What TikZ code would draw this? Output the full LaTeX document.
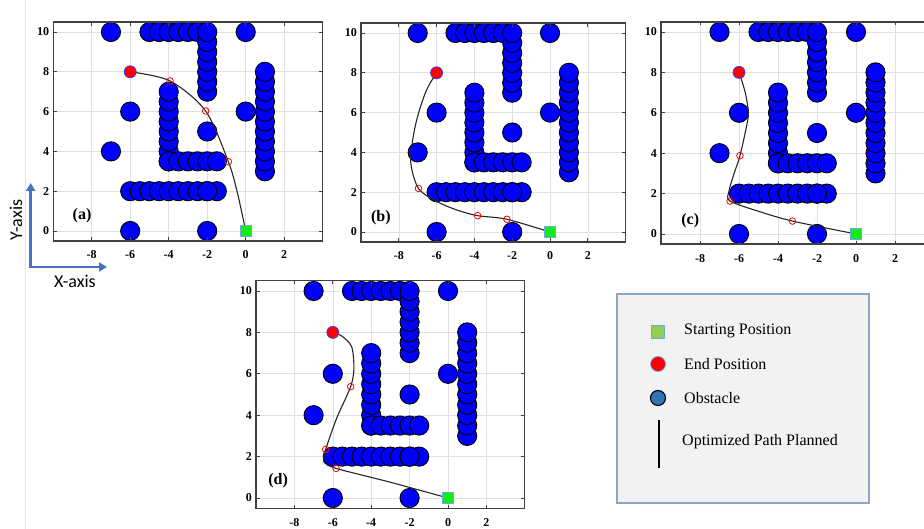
\documentclass[tikz,border=0pt]{standalone}
\usepackage{fontspec}
\setmainfont{Liberation Serif}
\newfontfamily\calibfont{Carlito}
\usetikzlibrary{arrows.meta}
\definecolor{obsblue}{RGB}{0,0,255}
\definecolor{startgreen}{RGB}{20,235,20}
\definecolor{sqborder}{RGB}{110,170,230}
\definecolor{endborder}{RGB}{60,60,255}
\definecolor{legborder}{RGB}{140,165,200}
\definecolor{leggray}{RGB}{242,242,242}
\definecolor{leggreen}{RGB}{146,208,80}
\definecolor{legblue}{RGB}{46,117,182}
\definecolor{axblue}{RGB}{68,114,196}
\tikzset{
 gridline/.style={draw=black!12, line width=0.6pt},
 frameline/.style={draw=black!75, line width=1.3pt},
 tickline/.style={draw=black!75, line width=0.7pt},
 obs/.style={fill=obsblue, draw=black, line width=0.9pt},
 ticklab/.style={font=\bfseries\fontsize{12}{12}\selectfont, inner sep=0pt},
 panlab/.style={font=\bfseries\fontsize{16}{16}\selectfont, inner sep=0pt},
 pathline/.style={draw=black!85, line width=1.1pt},
 waypt/.style={draw=red, line width=0.8pt},
 startsq/.style={fill=startgreen, draw=sqborder, line width=0.8pt, minimum size=11pt, inner sep=0pt},
 endpt/.style={circle, fill=red, draw=endborder, line width=0.8pt, minimum size=12pt, inner sep=0pt},
 legtext/.style={font=\fontsize{16}{16}\selectfont, inner sep=0pt, anchor=west},
 axisarrow/.style={draw=axblue, line width=2.6pt},
 axislab/.style={font=\calibfont\fontsize{18}{18}\selectfont, inner sep=0pt},
}
\newcommand\drawpanel[7]{%
\begin{scope}[shift={(#1,#2)}, x=#3pt, y=#4pt]
 \foreach \g in {-8,-6,...,2} \draw[gridline] (\g,-0.5) -- (\g,10.5);
 \foreach \g in {0,2,...,10} \draw[gridline] (-10,\g) -- (4,\g);
 \foreach \cx/\cy in {-7/10,0/10,-6/6,0/6,-7/4,-2/5,-6/0,-2/0} \draw[obs] (\cx,\cy) circle[radius=9.6pt];
 \foreach \cx in {-5,-4.5,...,-2.5} \draw[obs] (\cx,10) circle[radius=9.6pt];
 \foreach \cy in {7,7.5,...,10} \draw[obs] (-2,\cy) circle[radius=9.6pt];
 \foreach \cy in {3.5,4,...,7} \draw[obs] (-4,\cy) circle[radius=9.6pt];
 \foreach \cx in {-4,-3.5,...,-1.5} \draw[obs] (\cx,3.5) circle[radius=9.6pt];
 \foreach \cx in {-6,-5.5,...,-1.5} \draw[obs] (\cx,2) circle[radius=9.6pt];
 \draw[obs] (-2,2) circle[radius=9.6pt];
 \foreach \cy in {3,3.5,...,8} \draw[obs] (1,\cy) circle[radius=9.6pt];
 #7
 \node[startsq] (start-#5) at (0,0) {};
 \node[endpt] (end-#5) at (-6,8) {};
 \draw[frameline] (-10,-0.5) rectangle (4,10.5);
 \foreach \g in {-8,-6,...,2} {
   \draw[tickline] (\g,-0.5) -- ++(0,3.5pt);
   \draw[tickline] (\g,10.5) -- ++(0,-3.5pt);
   \node[ticklab] at ([yshift=-14pt]\g,-0.5) {\g};}
 \foreach \g in {0,2,...,10} {
   \draw[tickline] (-10,\g) -- ++(3.5pt,0);
   \draw[tickline] (4,\g) -- ++(-3.5pt,0);
   \node[ticklab, anchor=east] at ([xshift=-4pt]-10,\g) {\g};}
 \node[panlab] (lab-#5) at (#6) {(#5)};
\end{scope}}
\begin{document}
\begin{tikzpicture}[x=1pt,y=1pt]
\path[use as bounding box] (0,0) rectangle (924,529);
\clip (0,0) rectangle (924,529);
\fill[white] (0,0) rectangle (924,529);
\draw[black!10, line width=0.8pt] (25.5,0) -- (25.5,529);

\drawpanel{245.7}{298}{19.25}{19.9}{a}{-8.5,0.75}{%
 \draw[pathline] plot[smooth] coordinates {(0,0) (-0.45,2) (-0.9,3.48) (-2.08,6.03) (-3.93,7.54) (-6,8)};
 \foreach \wx/\wy in {-0.9/3.48,-2.08/6.03,-3.93/7.54} \draw[waypt] (\wx,\wy) circle[radius=3.3pt];}

\drawpanel{550}{297}{18.9}{19.9}{b}{-8.95,0.7}{%
 \draw[pathline] plot[smooth] coordinates {(0,0) (-2.28,0.64) (-3.83,0.82) (-4.91,1.1) (-5.96,1.52) (-6.96,2.19) (-7.37,3.53) (-7.19,5.04) (-6.88,6.21) (-6.49,7.22) (-6,8)};
 \foreach \wx/\wy in {-2.28/0.64,-3.83/0.82,-6.96/2.19} \draw[waypt] (\wx,\wy) circle[radius=3.3pt];}

\drawpanel{856}{295}{19.5}{20.2}{c}{-8.5,0.64}{%
 \draw[pathline] plot[smooth] coordinates {(0,0) (-3.26,0.64) (-4.92,1.1) (-6.46,1.63) (-6.52,2.1) (-6.26,2.97) (-5.95,3.88) (-5.6,5.4) (-5.52,6.05) (-5.69,7.04) (-6,8)};
 \foreach \wx/\wy in {-3.26/0.64,-6.46/1.63,-5.95/3.88} \draw[waypt] (\wx,\wy) circle[radius=3.3pt];}

\drawpanel{448}{31}{19.2}{20.7}{d}{-8.85,0.82}{%
 \draw[pathline] plot[smooth] coordinates {(0,0) (-3,0.76) (-5.83,1.43) (-6.45,1.72) (-6.45,1.98) (-6.37,2.35) (-5.8,3.85) (-5.07,5.38) (-4.9,6.27) (-5.02,7.31) (-5.54,7.83) (-6,8)};
 \foreach \wx/\wy in {-5.07/5.38,-6.37/2.35,-5.83/1.43} \draw[waypt] (\wx,\wy) circle[radius=3.3pt];}

% axis indicator
\coordinate (ytip) at (30.7,346);
\coordinate (corner) at (30.7,262);
\coordinate (xtip) at (107,262);
\draw[axisarrow, {Triangle[length=8pt,width=9pt]}-{Triangle[length=8pt,width=9pt]}] (ytip) -- (corner) -- (xtip);
\node[axislab, rotate=90] (ylab) at (16,309) {Y-axis};
\node[axislab] (xlab) at (75,248) {X-axis};

% legend
\node[draw=legborder, fill=leggray, line width=1.2pt, minimum width=252pt, minimum height=209pt, inner sep=0pt] (legend) at (743,130.5) {};
\node[fill=leggreen, draw=sqborder, line width=0.8pt, minimum size=13pt, inner sep=0pt] (lsq) at (658,197) {};
\node[legtext] (lt1) at (684,198) {Starting Position};
\node[circle, fill=red, draw=sqborder, line width=0.8pt, minimum size=15pt, inner sep=0pt] (lend) at (658,165) {};
\node[legtext] (lt2) at (684,165) {End Position};
\node[circle, fill=legblue, draw=black, line width=1.1pt, minimum size=15pt, inner sep=0pt] (lobs) at (658,131) {};
\node[legtext] (lt3) at (684,131) {Obstacle};
\coordinate (lpa) at (659,109);
\coordinate (lpb) at (659,61);
\draw[black, line width=2.4pt] (lpa) -- (lpb);
\node[legtext] (lt4) at (682,87) {Optimized Path Planned};
\end{tikzpicture}
\end{document}
